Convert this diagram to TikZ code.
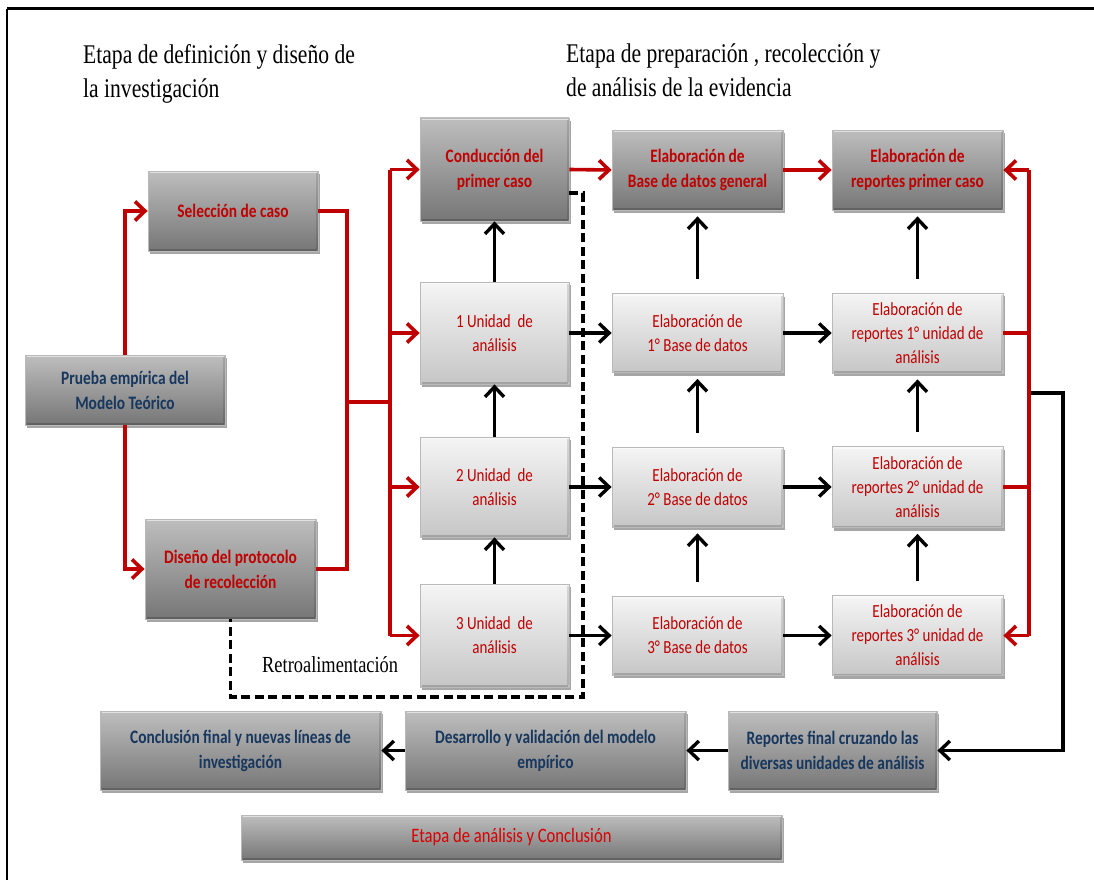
\documentclass[tikz,border=0pt]{standalone}
\usepackage{fontspec}
\setmainfont{Liberation Serif}[FakeStretch=0.8]
\newfontfamily\boxfont{Carlito}[FakeStretch=0.81]
\usetikzlibrary{arrows.meta,shadows,calc}

\definecolor{linered}{HTML}{C00000}
\definecolor{txtred}{HTML}{C00000}
\definecolor{txtblue}{HTML}{17375E}
\definecolor{darktop}{HTML}{BEBEBE}
\definecolor{darkbot}{HTML}{767676}
\definecolor{lighttop}{HTML}{F5F5F5}
\definecolor{lightbot}{HTML}{C6C6C6}

\tikzset{
  boxbase/.style={rectangle, inner sep=2pt, align=center, draw=gray!55, line width=0.8pt,
    drop shadow={shadow xshift=2pt, shadow yshift=-3pt, opacity=0.35, fill=black},
    path picture={
      \draw[white, opacity=0.55, line width=2.5pt]
        ([xshift=1.5pt,yshift=-1.2pt]path picture bounding box.north west) --
        ([xshift=-1.5pt,yshift=-1.2pt]path picture bounding box.north east);
      \draw[black, opacity=0.12, line width=2pt]
        ([xshift=-1pt,yshift=-2pt]path picture bounding box.north east) --
        ([xshift=-1pt,yshift=2pt]path picture bounding box.south east);
      \draw[black, opacity=0.18, line width=2pt]
        ([xshift=1.5pt,yshift=1pt]path picture bounding box.south west) --
        ([xshift=-1.5pt,yshift=1pt]path picture bounding box.south east);
    }},
  darkbox/.style={boxbase, top color=darktop, bottom color=darkbot,
    font=\boxfont\bfseries\fontsize{19}{25}\selectfont},
  redbox/.style={darkbox, text=txtred},
  bluebox/.style={darkbox, text=txtblue},
  lightbox/.style={boxbase, top color=lighttop, bottom color=lightbot, text=txtred,
    font=\boxfont\fontsize{18.5}{24}\selectfont},
  redline/.style={draw=linered, line width=3.6pt},
  blackline/.style={draw=black, line width=3.4pt},
  dashline/.style={draw=black, line width=3.4pt, dash pattern=on 9pt off 4.5pt},
  tip/.style={-{Straight Barb[length=10pt,width=19pt]}},
  vgap/.style={shorten <=14pt, shorten >=6pt},
  heading/.style={anchor=north west, inner sep=0pt, align=left,
    font=\fontsize{27}{34}\selectfont}
}

\begin{document}
\begin{tikzpicture}[x=1pt,y=-1pt]
  \useasboundingbox (0,0) rectangle (1094,880);
  \fill[white] (0,0) rectangle (1094,880);

  % page frame (top and left rules)
  \draw[line width=3pt] (7,9) -- (1094,9);
  \draw[line width=2pt] (7,9) -- (7,880);

  % stage headings
  \node[heading] (h1) at (83,44) {Etapa de definición y diseño de\\la investigación};
  \node[heading] (h2) at (566,44) {Etapa de preparación , recolección y\\de análisis de la evidencia};

  % design stage
  \node[redbox, minimum width=170pt, minimum height=80pt] (sel) at (233,211) {Selección de caso};
  \node[bluebox, minimum width=200pt, minimum height=70pt] (prueba) at (125,390) {Prueba empírica del\\Modelo Teórico};
  \node[redbox, minimum width=171pt, minimum height=100pt] (diseno) at (230.5,569) {Diseño del protocolo\\de recolección};

  % units of analysis
  \node[redbox, minimum width=149pt, minimum height=103pt] (cond) at (494.5,169.5) {Conducción del\\primer caso};
  \node[lightbox, minimum width=149pt, minimum height=102pt] (u1) at (494.5,333) {1 Unidad\ \ de\\análisis};
  \node[lightbox, minimum width=149pt, minimum height=100pt] (u2) at (494.5,487) {2 Unidad\ \ de\\análisis};
  \node[lightbox, minimum width=149pt, minimum height=103pt] (u3) at (494.5,635.5) {3 Unidad\ \ de\\análisis};

  % databases
  \node[redbox, minimum width=171pt, minimum height=80pt] (bg) at (697.5,170) {Elaboración de\\Base de datos general};
  \node[lightbox, minimum width=171pt, minimum height=79pt] (b1) at (697.5,333) {Elaboración de\\1° Base de datos};
  \node[lightbox, minimum width=171pt, minimum height=80pt] (b2) at (697.5,487) {Elaboración de\\2° Base de datos};
  \node[lightbox, minimum width=171pt, minimum height=79pt] (b3) at (697.5,635.5) {Elaboración de\\3° Base de datos};

  % reports
  \node[redbox, minimum width=171pt, minimum height=80pt] (rp) at (917.5,170) {Elaboración de\\reportes primer caso};
  \node[lightbox, minimum width=171pt, minimum height=80pt] (r1) at (917.5,333) {Elaboración de\\reportes 1° unidad de\\análisis};
  \node[lightbox, minimum width=171pt, minimum height=81pt] (r2) at (917.5,487) {Elaboración de\\reportes 2° unidad de\\análisis};
  \node[lightbox, minimum width=171pt, minimum height=80pt] (r3) at (917.5,635.5) {Elaboración de\\reportes 3° unidad de\\análisis};

  % analysis and conclusion
  \node[bluebox, minimum width=209pt, minimum height=79pt] (rf) at (832.5,750.5) {Reportes final cruzando las\\diversas unidades de análisis};
  \node[bluebox, minimum width=281pt, minimum height=79pt] (des) at (545.5,750.5) {Desarrollo y validación del modelo\\empírico};
  \node[bluebox, minimum width=281pt, minimum height=79pt] (con) at (240.5,750.5) {Conclusión final y nuevas líneas de\\investigación};
  \node[darkbox, minimum width=541pt, minimum height=45pt, text=red!85!black,
        font=\boxfont\fontsize{20.5}{24}\selectfont] (etapa) at (511.5,837.5) {Etapa de análisis y Conclusión};

  \node[anchor=base west, inner sep=0pt, font=\fontsize{23}{28}\selectfont] (retro) at (262,672) {Retroalimentación};

  % red flow on the left
  \coordinate (jn) at (347,402);
  \coordinate (bus) at (390,402);
  \draw[redline, tip] (prueba.north) |- (sel.west);
  \draw[redline, tip] (prueba.south) |- (diseno.west);
  \draw[redline] (sel.east) -| (jn);
  \draw[redline] (diseno.east) -| (jn);
  \draw[redline] (jn) -- (bus);
  \draw[redline] (bus |- cond.west) -- (bus |- u3.west);
  \draw[redline, tip] (bus |- cond.west) -- (cond.west);
  \draw[redline, tip] (bus |- u1.west) -- (u1.west);
  \draw[redline, tip] (bus |- u2.west) -- (u2.west);
  \draw[redline, tip] (bus |- u3.west) -- (u3.west);

  % red flow along the top row
  \draw[redline, tip] (cond.east) -- (bg.west);
  \draw[redline, tip] (bg.east) -- (rp.west);

  % red bus on the right
  \coordinate (rb) at (1029,393);
  \draw[redline] (rb |- rp.east) -- (rb |- r3.east);
  \draw[redline] (r1.east) -- (rb |- r1.east);
  \draw[redline] (r2.east) -- (rb |- r2.east);
  \draw[redline, tip] (rb |- rp.east) -- (rp.east);
  \draw[redline, tip] (rb |- r3.east) -- (r3.east);

  % black flow to the final reports
  \coordinate (rb2) at (1031,393);
  \coordinate (bk) at (1063,393);
  \draw[blackline, tip] (rb2) -- (bk) |- (rf.east);
  \draw[blackline, tip] (rf.west) -- (des.east);
  \draw[blackline, tip] (des.west) -- (con.east);

  % units column
  \draw[blackline, tip] (u1.north) -- (cond.south);
  \draw[blackline, tip] (u2.north) -- (u1.south);
  \draw[blackline, tip] (u3.north) -- (u2.south);

  % rows
  \draw[blackline, tip] (u1.east) -- (b1.west);
  \draw[blackline, tip] (u2.east) -- (b2.west);
  \draw[blackline, tip] (u3.east) -- (b3.west);
  \draw[blackline, tip] (b1.east) -- (r1.west);
  \draw[blackline, tip] (b2.east) -- (r2.west);
  \draw[blackline, tip] (b3.east) -- (r3.west);

  % database and report columns
  \draw[blackline, tip, vgap] (b1.north) -- (bg.south);
  \draw[blackline, tip, vgap] (b2.north) -- (b1.south);
  \draw[blackline, tip, vgap] (b3.north) -- (b2.south);
  \draw[blackline, tip, vgap] (r1.north) -- (rp.south);
  \draw[blackline, tip, vgap] (r2.north) -- (r1.south);
  \draw[blackline, tip, vgap] (r3.north) -- (r2.south);

  % feedback loop
  \coordinate (d1) at (583,193);
  \coordinate (d2) at (583,697);
  \coordinate (d3) at (230.5,697);
  \draw[dashline] (cond.east |- d1) -- (d1) -- (d2) -- (d3) -- (diseno.south);
\end{tikzpicture}
\end{document}
